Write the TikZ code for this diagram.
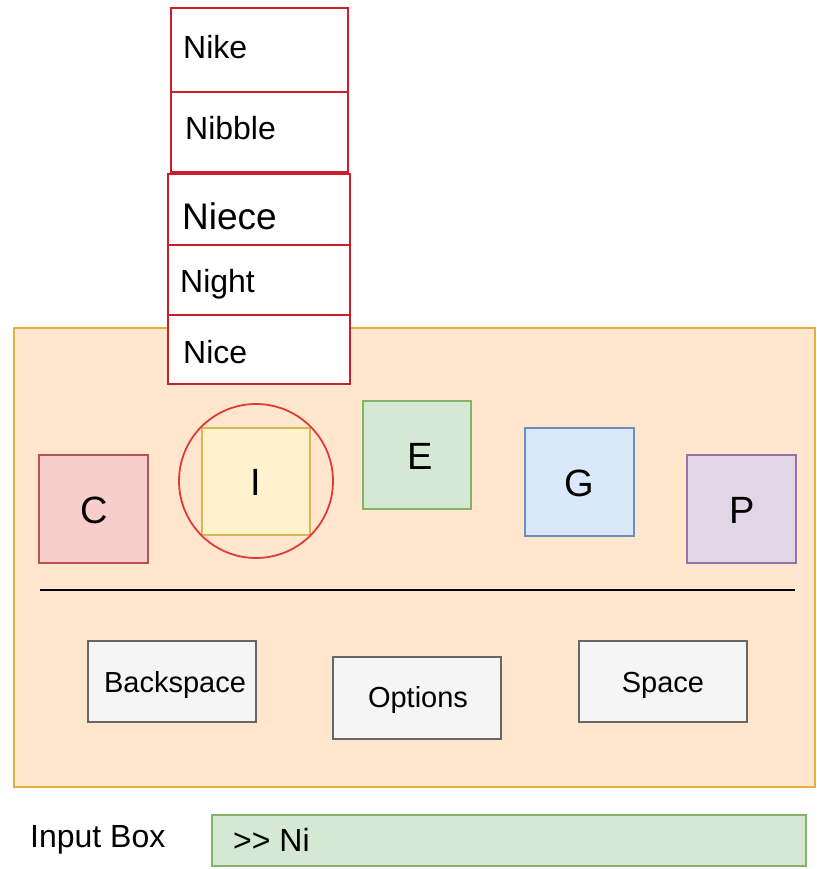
\documentclass[tikz,border=0pt]{standalone}
\usepackage{fontspec}
\setmainfont{Liberation Sans}
\definecolor{panelfill}{HTML}{FFE6CC}
\definecolor{paneldraw}{HTML}{E0B040}
\definecolor{listred}{HTML}{CC1F2A}
\definecolor{ringred}{HTML}{E03A3A}
\definecolor{cfill}{HTML}{F8CECC}\definecolor{cdraw}{HTML}{B85450}
\definecolor{ifill}{HTML}{FFF2CC}\definecolor{idraw}{HTML}{D6B656}
\definecolor{efill}{HTML}{D5E8D4}\definecolor{edraw}{HTML}{82B366}
\definecolor{gfill}{HTML}{DAE8FC}\definecolor{gdraw}{HTML}{6C8EBF}
\definecolor{pfill}{HTML}{E1D5E7}\definecolor{pdraw}{HTML}{9673A6}
\definecolor{btnfill}{HTML}{F5F5F5}\definecolor{btndraw}{HTML}{666666}
\tikzset{
  item/.style={draw=listred, fill=white, line width=2pt},
  itemtext/.style={anchor=base west, inner sep=0pt, font=\fontsize{32}{38}\selectfont},
  keybox/.style={line width=1.6pt},
  keytext/.style={inner sep=0pt, font=\fontsize{38}{44}\selectfont},
  btn/.style={draw=btndraw, fill=btnfill, line width=1.6pt},
  btntext/.style={inner sep=0pt, font=\fontsize{29}{34}\selectfont}
}
\begin{document}
\begin{tikzpicture}[x=1pt, y=-1pt]
\useasboundingbox (0,0) rectangle (816,869);

% keyboard panel
\draw[fill=panelfill, draw=paneldraw, line width=1.6pt] (14,328) rectangle (815,787);

% suggestion list
\draw[item] (171,8) rectangle (348,92);
\draw[item] (171,92) rectangle (348,172);
\draw[item] (168,174) rectangle (350,245);
\draw[item] (168,245) rectangle (350,315);
\draw[item] (168,315) rectangle (350,384);
\node[itemtext] (nike) at (183,59) {Nike};
\node[itemtext] (nibble) at (185,140) {Nibble};
\node[itemtext, font=\fontsize{37}{44}\selectfont] (niece) at (182,229) {Niece};
\node[itemtext] (night) at (180,292) {Night};
\node[itemtext] (nice) at (183,363) {Nice};

% letter keys
\draw[keybox, fill=cfill, draw=cdraw] (39,455) rectangle (148,563);
\node[keytext] (kc) at (94,510) {C};
\draw[keybox, fill=ifill, draw=idraw] (202,428) rectangle (310,535);
\node[keytext] (ki) at (256,482) {I};
\draw[keybox, fill=efill, draw=edraw] (363,401) rectangle (471,509);
\node[keytext] (ke) at (420,456) {E};
\draw[keybox, fill=gfill, draw=gdraw] (525,428) rectangle (634,536);
\node[keytext] (kg) at (579,483) {G};
\draw[keybox, fill=pfill, draw=pdraw] (687,455) rectangle (796,563);
\node[keytext] (kp) at (742,510) {P};

% highlight ring round the selected key
\draw[ringred, line width=1.8pt] (256,481) circle (77);

% separator
\draw[black, line width=2pt] (40,590) -- (795,590);

% function keys
\draw[btn] (88,641) rectangle (256,722);
\node[btntext] (bksp) at (175,685) {Backspace};
\draw[btn] (333,657) rectangle (501,739);
\node[btntext] (opts) at (418,700) {Options};
\draw[btn] (579,641) rectangle (747,722);
\node[btntext] (spc) at (663,685) {Space};

% input field
\node[anchor=west, inner sep=0pt, font=\fontsize{32}{38}\selectfont] (lbl) at (30,840) {Input Box};
\draw[fill=efill, draw=edraw, line width=1.6pt] (212,815) rectangle (806,866);
\node[anchor=west, inner sep=0pt, font=\fontsize{32}{38}\selectfont] (inp) at (233,840) {>\kern0pt> Ni};
\end{tikzpicture}
\end{document}
